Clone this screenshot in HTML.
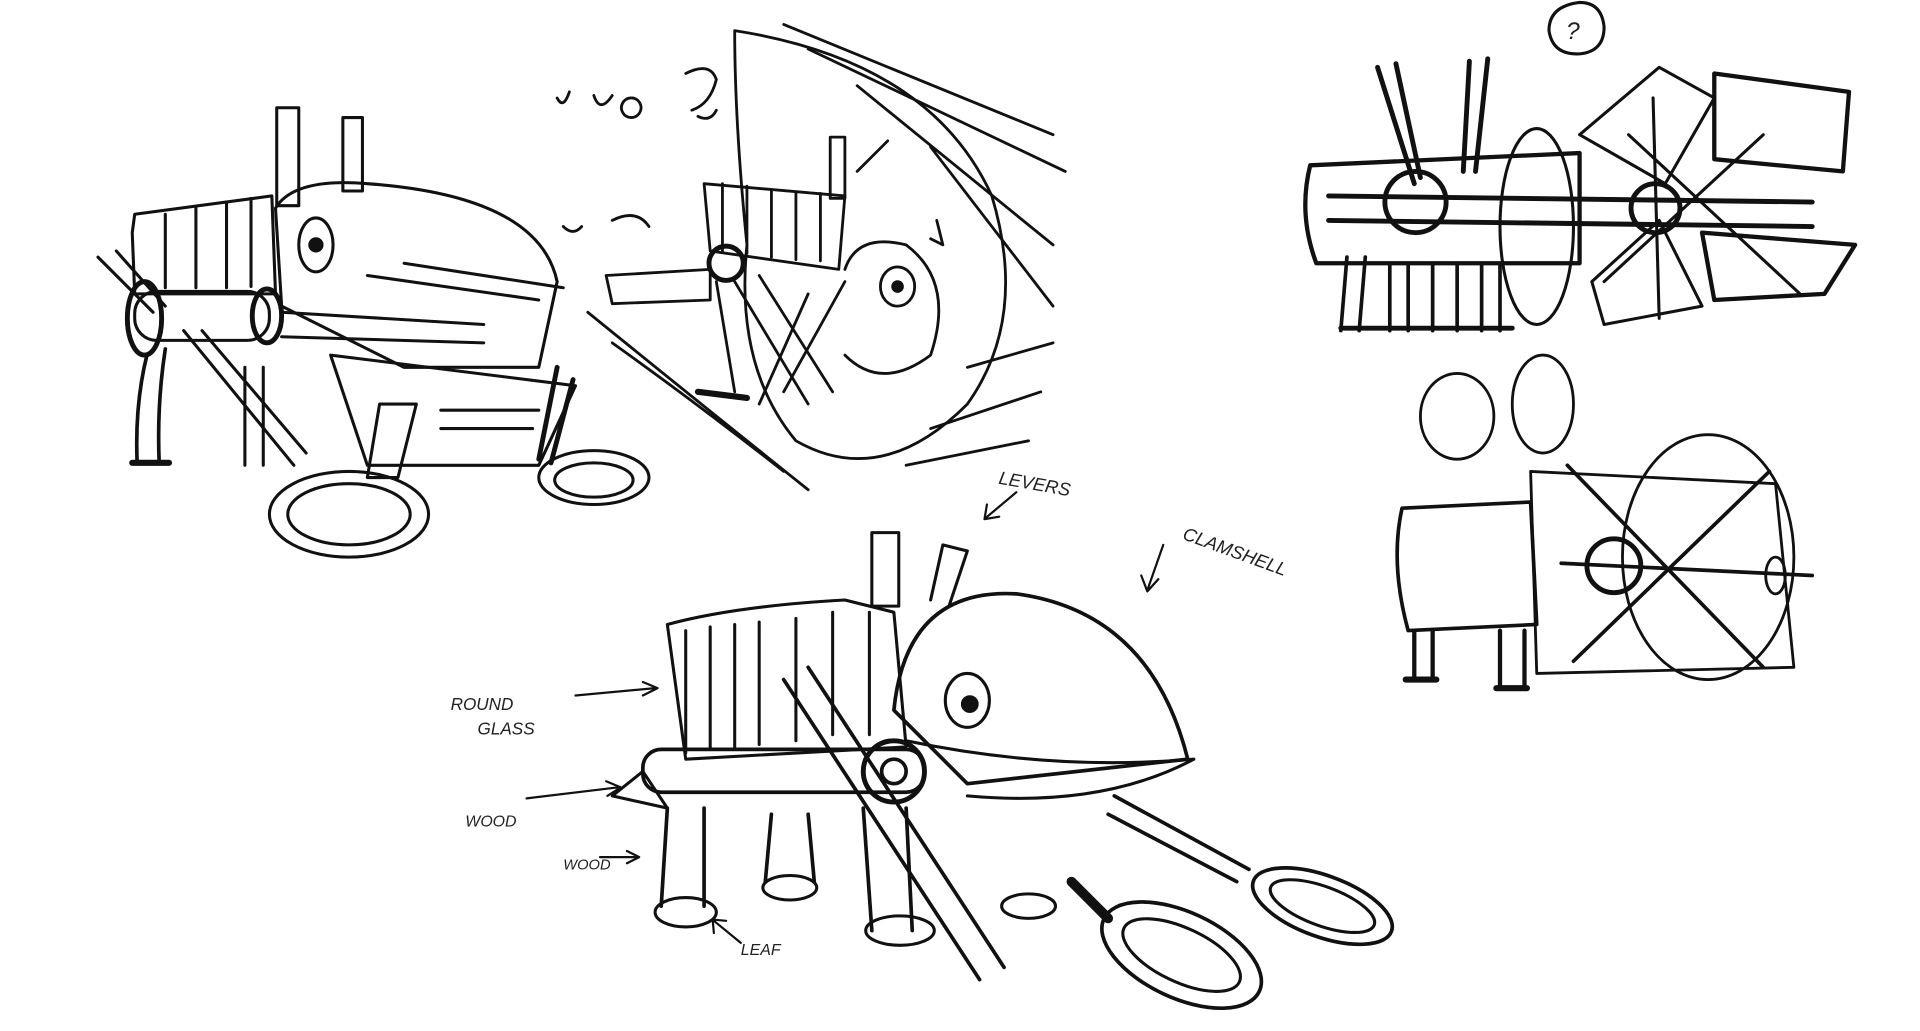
<!DOCTYPE html>
<html><head><meta charset="utf-8"><style>
html,body{margin:0;padding:0;background:#fff;width:1920px;height:1031px;overflow:hidden}
svg{display:block}
text{font-family:"Liberation Sans",sans-serif;fill:#222;font-style:italic}
</style></head><body>
<svg width="1920" height="1031" viewBox="0 0 1568 842" preserveAspectRatio="none" xmlns="http://www.w3.org/2000/svg">
<g fill="none" stroke="#111" stroke-linecap="round" stroke-linejoin="round">
<!-- Sketch 1 -->
<g stroke-width="2.5">
<rect x="226" y="88" width="18" height="80"/><rect x="280" y="96" width="16" height="60"/>
<path d="M108 190 L110 240 L225 240 L222 160 L110 175 Z"/>
<path d="M135 175 v60 M160 170 v65 M185 165 v70 M205 162 v72"/>
<path d="M225 170 Q240 145 300 150 Q440 160 455 230 L440 300 L330 300 L230 250 Z"/>
<ellipse cx="258" cy="200" rx="14" ry="22"/><circle cx="258" cy="200" r="5" fill="#111"/>
<path d="M330 215 L460 235 M300 225 L440 245"/>
<path d="M80 210 L125 255 M95 205 L135 250"/>
<rect x="110" y="238" width="110" height="40" rx="18"/>
<ellipse cx="118" cy="260" rx="14" ry="30" stroke-width="4"/>
<ellipse cx="218" cy="258" rx="12" ry="22" stroke-width="4"/>
<path d="M230 255 L395 265 M230 275 L395 280"/>
<path d="M270 290 L470 315 L440 380 L300 380 Z"/>
<path d="M310 330 L340 330 L325 390 L300 390 Z"/>
<path d="M360 335 h80 M360 350 h75"/>
<path d="M120 290 Q110 330 112 378 M135 285 Q128 330 130 378" stroke-width="3"/>
<path d="M108 378 h30" stroke-width="5"/>
<path d="M150 270 L240 380 M165 270 L250 370"/>
<ellipse cx="285" cy="420" rx="65" ry="35"/><ellipse cx="285" cy="420" rx="50" ry="25"/>
<path d="M455 300 L440 375 M468 310 L450 378" stroke-width="4"/>
<ellipse cx="485" cy="390" rx="45" ry="22"/><ellipse cx="485" cy="392" rx="32" ry="14"/>
<path d="M200 300 v80 M215 300 v80"/>
</g>
<!-- Sketch 2 -->
<g stroke-width="2.3">
<path d="M600 25 Q760 50 810 160 Q840 260 790 330 Q720 400 650 360 Q600 300 610 200 Q600 100 600 25"/>
<path d="M640 20 L860 110 M660 40 L870 140 M700 70 L860 200 M760 120 L860 250 M790 300 L860 280 M760 350 L850 320 M740 380 L840 360"/>
<path d="M575 150 L690 160 L685 220 L580 205 Z"/>
<path d="M590 150 v55 M610 152 v55 M630 155 v55 M650 157 v55 M670 158 v55"/>
<rect x="678" y="112" width="12" height="50"/><path d="M700 140 L725 115"/>
<path d="M690 220 Q700 190 740 200 Q780 230 760 290 Q720 320 690 290"/>
<ellipse cx="733" cy="234" rx="14" ry="16"/><circle cx="733" cy="234" r="4" fill="#111"/>
<path d="M495 225 L580 220 L580 245 L500 248 Z"/>
<circle cx="593" cy="215" r="14" stroke-width="4"/>
<path d="M585 230 L600 320 M600 230 L660 330 M620 225 L680 320 M660 240 L620 330 M690 230 L640 320"/>
<path d="M570 320 L610 325" stroke-width="5"/>
<path d="M455 80 q5 10 10 -5 M485 78 q5 15 15 0 M515 80 a8 8 0 1 0 1 0 M560 60 q20 -10 25 5 q-5 20 -20 25 M570 95 q10 5 15 -5"/>
<path d="M460 185 q8 8 15 0 M500 180 q20 -10 30 5"/>
<path d="M480 255 Q560 320 660 400 M500 280 Q570 330 640 385"/>
<path d="M765 180 l5 20 l-10 -5"/>
</g>
<!-- Sketch 3 (top right) -->
<g stroke-width="2.5">
<path d="M1290 2 Q1265 5 1265 25 Q1268 45 1290 44 Q1310 42 1310 22 Q1308 2 1290 2 Z"/>
<text x="1279" y="32" font-size="20" stroke="none">?</text>
<path d="M1070 135 L1290 125 L1290 215 L1075 215 Q1060 175 1070 135 Z" stroke-width="3.5"/>
<path d="M1085 160 L1480 165 M1085 180 L1480 185" stroke-width="4"/>
<circle cx="1156" cy="165" r="25" stroke-width="4"/>
<ellipse cx="1255" cy="185" rx="30" ry="80"/>
<path d="M1125 55 L1155 150 M1140 52 L1160 145 M1200 50 L1195 140 M1215 48 L1205 140" stroke-width="4"/>
<path d="M1100 210 L1095 270 M1115 210 L1110 270 M1135 215 v55 M1150 215 v55 M1170 215 v55 M1190 215 v55 M1210 215 v55 M1225 215 v55" stroke-width="3"/>
<path d="M1095 268 h140" stroke-width="4"/>
<path d="M1400 60 L1510 75 L1505 140 L1400 130 Z" stroke-width="3.5"/>
<path d="M1290 110 L1355 55 L1400 80 L1360 150 Z M1300 230 L1355 180 L1390 250 L1310 265 Z"/>
<path d="M1390 190 L1515 200 L1490 240 L1400 245 Z" stroke-width="3.5"/>
<circle cx="1352" cy="170" r="20" stroke-width="4"/>
<path d="M1330 110 L1470 240 M1310 230 L1440 110 M1350 80 L1355 260"/>
</g>
<!-- Sketch 4 -->
<g stroke-width="2.3">
<ellipse cx="1190" cy="340" rx="30" ry="35"/><ellipse cx="1260" cy="330" rx="25" ry="40"/>
<path d="M1145 415 L1250 410 L1255 510 L1150 515 Q1135 460 1145 415 Z" stroke-width="3"/>
<path d="M1250 385 L1450 395 L1465 545 L1255 550 Z"/>
<ellipse cx="1395" cy="455" rx="70" ry="100"/>
<path d="M1280 380 L1440 545 M1285 540 L1445 385 M1275 460 L1480 470" stroke-width="3"/>
<circle cx="1318" cy="462" r="22" stroke-width="4"/>
<ellipse cx="1450" cy="470" rx="8" ry="15"/>
<path d="M1155 515 v40 M1170 515 v40 M1225 515 v45 M1245 515 v45" stroke-width="3.5"/>
<path d="M1148 555 h25 M1222 562 h25" stroke-width="5"/>
</g>
<!-- Sketch 5 (main) -->
<g stroke-width="2.5">
<rect x="712" y="435" width="22" height="60"/><path d="M760 490 L770 445 L790 450 L775 495"/>
<path d="M545 510 Q600 495 690 490 L730 500 L740 610 L560 620 Z"/>
<path d="M560 515 v100 M580 512 v100 M600 510 v100 M620 508 v100 M650 505 v100 M680 500 v100 M710 500 v100"/>
<path d="M730 580 Q740 480 830 485 Q940 500 970 620 L790 640 Z" stroke-width="3"/>
<path d="M740 605 Q860 630 975 620 Q900 660 790 650"/>
<ellipse cx="790" cy="572" rx="18" ry="22"/><circle cx="792" cy="575" r="6" fill="#111"/>
<rect x="525" y="612" width="230" height="35" rx="15" stroke-width="3"/>
<path d="M640 555 L800 800 M660 545 L820 790" stroke-width="3"/>
<circle cx="730" cy="630" r="25" stroke-width="4"/><circle cx="730" cy="630" r="10" stroke-width="3"/>
<path d="M875 720 L905 750" stroke-width="8"/>
<ellipse cx="965" cy="780" rx="70" ry="35" transform="rotate(25 965 780)" stroke-width="3"/>
<ellipse cx="965" cy="780" rx="52" ry="22" transform="rotate(25 965 780)"/>
<path d="M910 650 L1020 710 M905 665 L1010 720" stroke-width="3"/>
<ellipse cx="1080" cy="740" rx="60" ry="25" transform="rotate(20 1080 740)" stroke-width="3"/>
<ellipse cx="1080" cy="740" rx="45" ry="16" transform="rotate(20 1080 740)"/>
<path d="M545 660 L540 740 M575 660 L575 740 M630 665 L625 720 M660 665 L665 720 M705 660 L712 760 M740 660 L745 760" stroke-width="3"/>
<ellipse cx="560" cy="745" rx="25" ry="12"/><ellipse cx="735" cy="760" rx="28" ry="12"/><ellipse cx="645" cy="725" rx="22" ry="10"/><ellipse cx="840" cy="740" rx="22" ry="10"/>
<path d="M500 650 L525 630 L545 660 Z"/>
</g>
<!-- label arrows -->
<g stroke-width="1.8">
<path d="M470 568 L535 562 M525 557 L537 562 L525 568"/>
<path d="M430 652 L505 643 M495 638 L507 643 L496 650"/>
<path d="M490 700 L520 700 M512 695 L522 700 L512 705"/>
<path d="M605 770 L583 752 M583 762 L582 751 L593 752"/>
<path d="M830 402 L805 423 M806 412 L804 424 L816 422"/>
<path d="M950 445 L937 482 M932 470 L937 483 L946 473"/>
</g>
</g>
<g stroke="none">
<text x="815" y="395" font-size="15" transform="rotate(10 815 395)">LEVERS</text>
<text x="965" y="440" font-size="15" transform="rotate(20 965 440)">CLAMSHELL</text>
<text x="368" y="580" font-size="14">ROUND</text>
<text x="390" y="600" font-size="14">GLASS</text>
<text x="380" y="675" font-size="13">WOOD</text>
<text x="460" y="710" font-size="12">WOOD</text>
<text x="605" y="780" font-size="13">LEAF</text>
</g>
</svg>
</body></html>
